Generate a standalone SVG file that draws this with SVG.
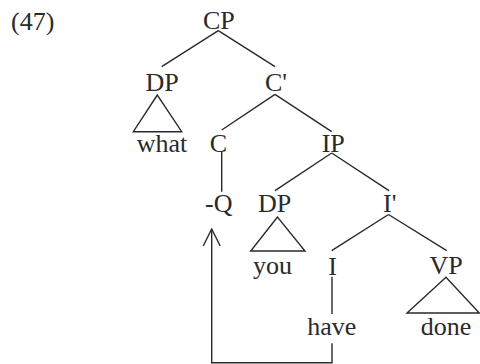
<svg xmlns="http://www.w3.org/2000/svg" width="480" height="364" viewBox="0 0 480 364">
<style>
text{font-family:"Liberation Serif","Times New Roman",serif;font-size:26px;fill:#2a2a2a}
.m{text-anchor:middle}
line,polygon,path{stroke:#2a2a2a;stroke-width:1.4;fill:none}
</style>
<defs>
<marker id="ah" viewBox="0 0 20 20" refX="19" refY="10" markerWidth="20" markerHeight="20" markerUnits="userSpaceOnUse" orient="auto">
<path d="M2,1.5 L19,10 L2,18.5" stroke="#2a2a2a" stroke-width="1.4" fill="none"/>
</marker>
</defs>
<rect width="480" height="364" fill="#fff"/>
<text x="11" y="29.5">(47)</text>
<g id="CP"><text class="m" x="218.8" y="29.3">CP</text></g>
<g id="DP1"><text class="m" x="162" y="90.7">DP</text><polygon points="157.3,95 133.3,131.7 181.7,131.7"/></g>
<g id="what"><text x="136.7" y="152">what</text></g>
<g id="Cbar"><text x="265" y="90.7">C'</text></g>
<g id="C"><text class="m" x="218.5" y="151.7">C</text></g>
<g id="IP"><text x="321.7" y="151.7">IP</text></g>
<g id="Q"><text x="205" y="211.7">-Q</text></g>
<g id="DP2"><text x="258" y="212">DP</text><polygon points="277.5,217 250.7,251 305,251"/></g>
<g id="you"><text x="253" y="274.3">you</text></g>
<g id="Ibar"><text x="383" y="212">I'</text></g>
<g id="I"><text class="m" x="332.5" y="274.5">I</text></g>
<g id="VP"><text class="m" x="446" y="274">VP</text><polygon points="446,277.3 407,313 479.3,313"/></g>
<g id="have"><text class="m" x="331.7" y="335">have</text></g>
<g id="done"><text x="420.7" y="334.5">done</text></g>
<g id="connectors">
<line x1="218.3" y1="30.7" x2="161.7" y2="66.7"/>
<line x1="218.3" y1="30.7" x2="275" y2="66.7"/>
<line x1="275" y1="94.3" x2="221.7" y2="130"/>
<line x1="275" y1="94.3" x2="331.7" y2="131.7"/>
<line x1="221.7" y1="151.7" x2="221.7" y2="191.7"/>
<line x1="331.7" y1="153" x2="275" y2="190.7"/>
<line x1="331.7" y1="153" x2="389" y2="190.7"/>
<line x1="388.5" y1="214.5" x2="331.7" y2="250.7"/>
<line x1="388.5" y1="214.5" x2="446.7" y2="250.7"/>
<line x1="332" y1="276.7" x2="332" y2="314"/>
<path d="M332,343.3 V362.7 H211.7 V229" marker-end="url(#ah)"/>
</g>
</svg>
